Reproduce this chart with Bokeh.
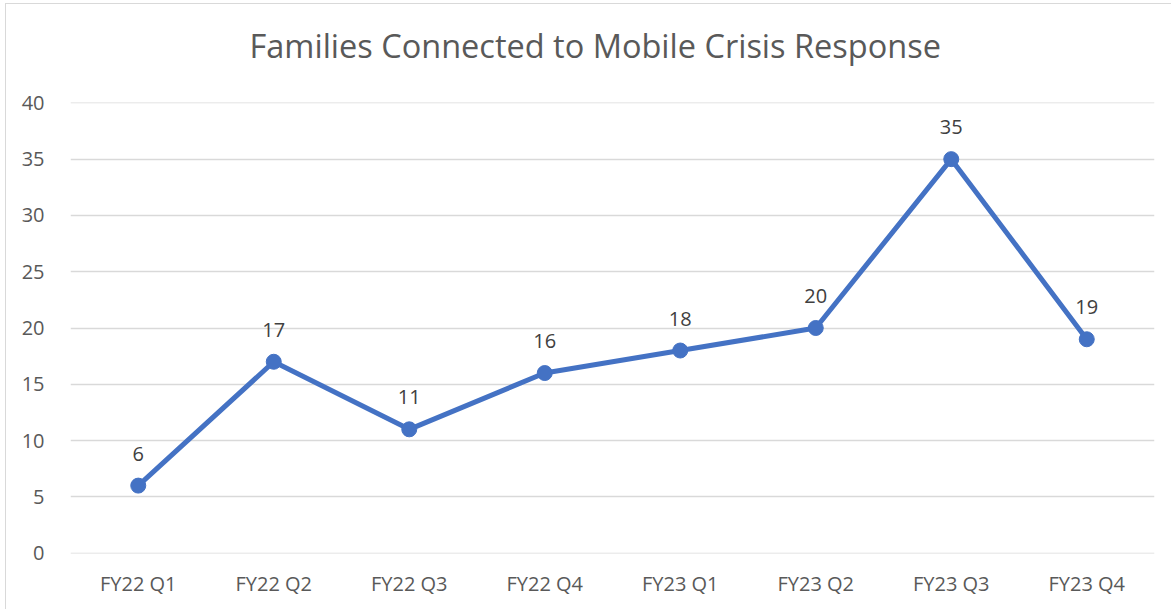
from bokeh.plotting import figure
from bokeh.models import ColumnDataSource, LabelSet, Title, Range1d, FixedTicker
from bokeh.core.properties import value
from bokeh.embed import file_html
from bokeh.resources import INLINE

title_text = "Families Connected to Mobile Crisis Response"
quarters = ["FY22 Q1", "FY22 Q2", "FY22 Q3", "FY22 Q4", "FY23 Q1", "FY23 Q2", "FY23 Q3", "FY23 Q4"]
families = [6, 17, 11, 16, 18, 20, 35, 19]
y_ticks = [0, 5, 10, 15, 20, 25, 30, 35, 40]

FONT = "Open Sans"
BLUE = "#4472C4"

src = ColumnDataSource(dict(q=quarters, v=families, lab=[str(v) for v in families]))

p = figure(x_range=quarters, y_range=Range1d(-0.03, 40.03), width=1166, height=606,
           output_backend="svg", toolbar_location=None,
           min_border_left=64, min_border_right=18, min_border_top=98, min_border_bottom=57,
           title=title_text)

p.title.align = "left"
p.title.offset = 179
p.title.text_font = FONT
p.title.text_font_size = "32.5px"
p.title.text_font_style = "normal"
p.title.text_color = "#595959"
p.title.standoff = 20

# blank spacer panel between the title and the plot frame
p.add_layout(Title(text=" ", text_font_size="1px", standoff=22), "above")

p.outline_line_color = None
p.background_fill_color = "white"
p.border_fill_color = "white"

p.xgrid.grid_line_color = None
p.ygrid.grid_line_color = "#D9D9D9"
p.ygrid.grid_line_width = 1.3
p.yaxis.ticker = FixedTicker(ticks=y_ticks)

for ax in (p.xaxis, p.yaxis):
    ax.axis_line_color = None
    ax.major_tick_line_color = None
    ax.minor_tick_line_color = None
    ax.major_label_text_font = FONT
    ax.major_label_text_font_size = "20px"
    ax.major_label_text_color = "#595959"
p.yaxis.major_label_standoff = 20
p.xaxis.major_label_standoff = 10

p.line("q", "v", source=src, line_color=BLUE, line_width=5)
p.scatter("q", "v", source=src, size=15, fill_color=BLUE, line_color=BLUE)

labels = LabelSet(x="q", y="v", text="lab", source=src, y_offset=32,
                  text_align="center", text_baseline="middle",
                  text_font=value(FONT), text_font_size=value("20px"), text_color="#404040")
p.add_layout(labels)

p.styles = {"border-left": "1px solid #D9D9D9", "border-top": "1px solid #D9D9D9",
            "margin-left": "5px", "margin-top": "3px"}

open("out.html", "w").write(file_html(p, INLINE))
